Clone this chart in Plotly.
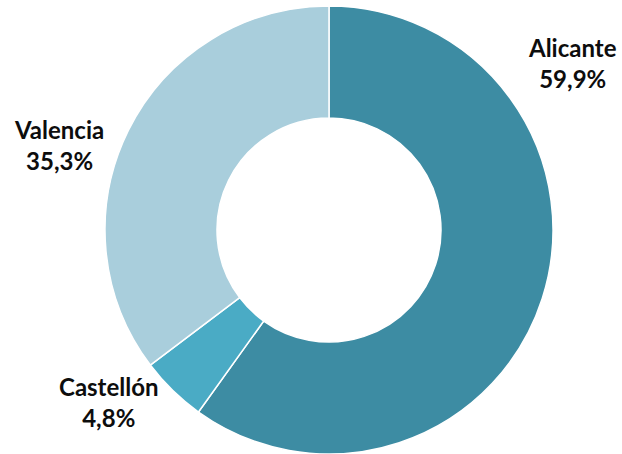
import plotly.graph_objects as go

# Share by province (%)
provinces = ["Alicante", "Castellón", "Valencia"]
shares = [59.9, 4.8, 35.3]
colors = ["#3D8CA3", "#4AABC5", "#A9CEDC"]

# Label anchor points (paper fractions) for each province
label_x = [572 / 622, 109 / 622, 59 / 622]
label_y = [1 - 63 / 454, 1 - 402 / 454, 1 - 145 / 454]

W, H = 622, 454

fig = go.Figure(
    go.Pie(
        labels=provinces,
        values=shares,
        hole=0.5,
        sort=False,
        direction="clockwise",
        rotation=0,
        textinfo="none",
        hoverinfo="label+percent",
        marker=dict(colors=colors, line=dict(color="white", width=1.5)),
        domain=dict(x=[105 / W, 553 / W], y=[0, 448 / H]),
        showlegend=False,
    )
)

for name, val, x, y in zip(provinces, shares, label_x, label_y):
    pct = f"{val:.1f}%".replace(".", ",")
    fig.add_annotation(
        x=x, y=y, xref="paper", yref="paper",
        text=f"{name}<br>{pct}",
        showarrow=False,
        xanchor="center", yanchor="middle",
        align="center",
        font=dict(family="Lato", size=24, color="#0d0d0d", weight="bold"),
    )

fig.update_layout(
    width=W, height=H,
    margin=dict(l=0, r=0, t=0, b=0),
    paper_bgcolor="white",
    plot_bgcolor="white",
)

fig.write_html("out.html")
